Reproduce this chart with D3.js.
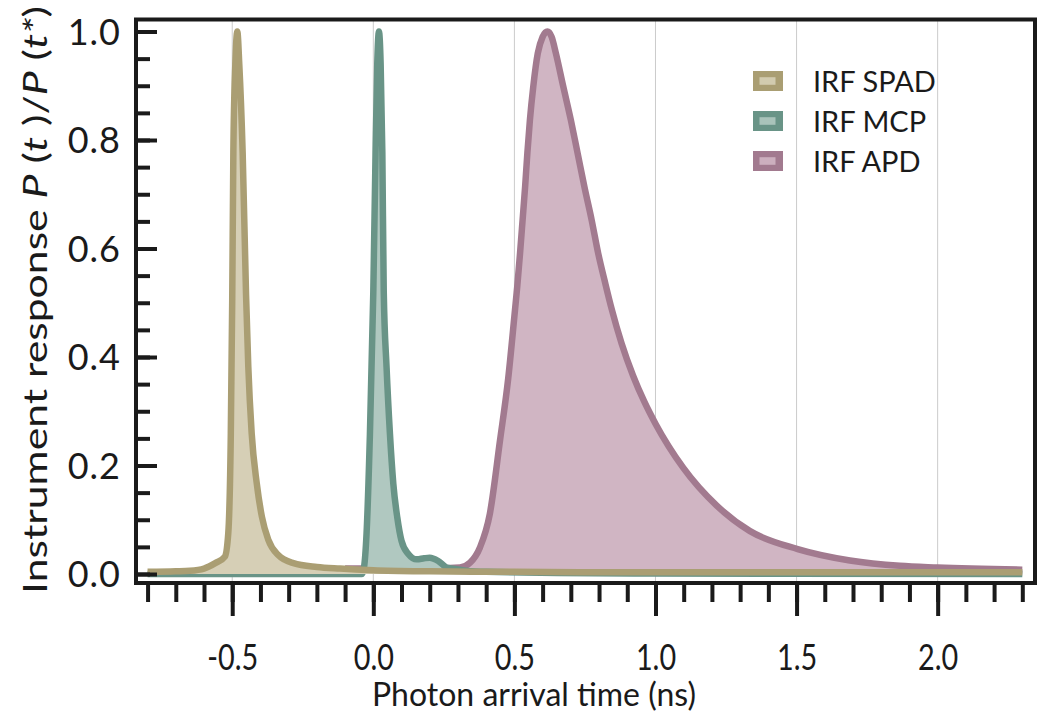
<!DOCTYPE html>
<html>
<head>
<meta charset="utf-8">
<script src="https://cdn.jsdelivr.net/npm/d3@7"></script>
<style>
  html, body { margin: 0; padding: 0; background: #ffffff; }
  svg text { font-family: Lato, "Open Sans", sans-serif; fill: #1a1a1a; }
</style>
</head>
<body>
<svg id="chart" width="1050" height="726"></svg>
<script>
// ---------------- data ----------------
const seriesNames = ["IRF SPAD", "IRF MCP", "IRF APD"];
const lineColors  = ["#aa9e73", "#699487", "#a27a8f"];
const fillColors  = ["#d6cfb6", "#b0c8c0", "#d0b5c3"];

const spadT = [-0.80, -0.70, -0.65, -0.60, -0.56, -0.526, -0.514, -0.505, -0.500, -0.496, -0.489, -0.482,
               -0.475, -0.463, -0.451, -0.443, -0.431, -0.413, -0.395, -0.372, -0.337, -0.283, -0.20, -0.118,
               0.0, 0.2, 0.5, 1.0, 1.5, 2.0, 2.3];
const spadV = [0.004, 0.005, 0.006, 0.010, 0.020, 0.032, 0.075, 0.259, 0.505, 0.777, 0.94, 1.0,
               0.94, 0.777, 0.515, 0.382, 0.259, 0.167, 0.106, 0.063, 0.035, 0.020, 0.013, 0.010,
               0.007, 0.005, 0.004, 0.003, 0.003, 0.003, 0.003];

const mcpT = [-0.80, -0.40, -0.10, -0.040, -0.033, -0.024, -0.012, 0.000, 0.008, 0.014, 0.020,
              0.026, 0.032, 0.037, 0.047, 0.059, 0.071, 0.085, 0.100, 0.124, 0.154, 0.180, 0.200,
              0.230, 0.260, 0.295, 0.330, 0.40, 1.0, 2.3];
const mcpV = [0.0, 0.0, 0.0, 0.0, 0.012, 0.074, 0.258, 0.52, 0.777, 0.94, 1.0,
              0.94, 0.777, 0.52, 0.381, 0.258, 0.166, 0.104, 0.061, 0.037, 0.027, 0.029, 0.030,
              0.024, 0.012, 0.009, 0.006, 0.004, 0.001, 0.0];

const apdT = [-0.10, 0.00, 0.10, 0.20, 0.307, 0.343, 0.378, 0.413, 0.449, 0.478, 0.502, 0.510,
              0.520, 0.529, 0.538, 0.546, 0.555, 0.567, 0.583, 0.600, 0.617, 0.632, 0.647, 0.673,
              0.700, 0.724, 0.748, 0.774, 0.797, 0.822, 0.845, 0.880, 0.921, 0.960, 1.000, 1.098, 1.217,
              1.335, 1.504, 1.689, 1.866, 2.000, 2.300];
const apdV = [0.010, 0.010, 0.010, 0.010, 0.012, 0.021, 0.049, 0.111, 0.246, 0.360, 0.486, 0.529,
              0.591, 0.652, 0.714, 0.776, 0.837, 0.899, 0.960, 0.990, 1.000, 0.990, 0.960, 0.899,
              0.837, 0.776, 0.714, 0.652, 0.591, 0.536, 0.488, 0.425, 0.365, 0.318, 0.277, 0.196, 0.126,
              0.079, 0.046, 0.025, 0.015, 0.012, 0.008];

const xMajorTicks = [-0.5, 0.0, 0.5, 1.0, 1.5, 2.0];
const xTickLabels = ["-0.5", "0.0", "0.5", "1.0", "1.5", "2.0"];
const xMinorTicks = [-0.8, -0.7, -0.6, -0.5, -0.4, -0.3, -0.2, -0.1, 0.0, 0.1, 0.2, 0.3, 0.4, 0.5, 0.6, 0.7,
                     0.8, 0.9, 1.0, 1.1, 1.2, 1.3, 1.4, 1.5, 1.6, 1.7, 1.8, 1.9, 2.0, 2.1, 2.2, 2.3];
const yMajorTicks = [0.0, 0.2, 0.4, 0.6, 0.8, 1.0];
const yTickLabels = ["0.0", "0.2", "0.4", "0.6", "0.8", "1.0"];
const yMinorTicks = [0.0, 0.05, 0.1, 0.15, 0.2, 0.25, 0.3, 0.35, 0.4, 0.45, 0.5, 0.55, 0.6, 0.65, 0.7,
                     0.75, 0.8, 0.85, 0.9, 0.95, 1.0];

// ---------------- layout ----------------
const frame = { left: 136, right: 1035, top: 19.5, bottom: 583 };
const svg = d3.select("#chart");
const ink = "#1a1a1a";

const x = d3.scaleLinear().domain([-0.841, 2.345]).range([frame.left, frame.right]);
const y = d3.scaleLinear().domain([0, 1]).range([574, 31.5]);

// grid lines
svg.append("g").selectAll("line").data(xMajorTicks).join("line")
  .attr("x1", d => x(d)).attr("x2", d => x(d))
  .attr("y1", frame.top).attr("y2", frame.bottom)
  .attr("stroke", "#cbcbcb").attr("stroke-width", 1);

// series
const series = [
  { name: seriesNames[0], t: spadT, v: spadV, line: lineColors[0], fill: fillColors[0] },
  { name: seriesNames[1], t: mcpT,  v: mcpV,  line: lineColors[1], fill: fillColors[1] },
  { name: seriesNames[2], t: apdT,  v: apdV,  line: lineColors[2], fill: fillColors[2] }
];
series.forEach(s => { s.pts = s.t.map((t, i) => ({ t: t, v: s.v[i] })); });

const area = d3.area().x(d => x(d.t)).y0(y(0)).y1(d => y(d.v)).curve(d3.curveMonotoneX);
const line = d3.line().x(d => x(d.t)).y(d => y(d.v)).curve(d3.curveMonotoneX);

const drawOrder = [2, 1, 0];
const gData = svg.append("g");
drawOrder.forEach(i => {
  const s = series[i];
  gData.append("path").attr("d", area(s.pts)).attr("fill", s.fill).attr("stroke", "none");
  gData.append("path").attr("d", line(s.pts)).attr("fill", "none")
    .attr("stroke", s.line).attr("stroke-width", 6.5).attr("stroke-linejoin", "miter");
});

// frame
svg.append("rect")
  .attr("x", frame.left).attr("y", frame.top)
  .attr("width", frame.right - frame.left).attr("height", frame.bottom - frame.top)
  .attr("fill", "none").attr("stroke", ink).attr("stroke-width", 4);

// x axis (ticks outside, downward)
const gxMinor = svg.append("g").attr("transform", `translate(0,${frame.bottom})`)
  .call(d3.axisBottom(x).tickValues(xMinorTicks).tickSize(19).tickFormat(""));
const gxMajor = svg.append("g").attr("transform", `translate(0,${frame.bottom})`)
  .call(d3.axisBottom(x).tickValues(xMajorTicks).tickSize(33)
    .tickFormat((d, i) => xTickLabels[i]));
[gxMinor, gxMajor].forEach(g => {
  g.select(".domain").remove();
  g.selectAll(".tick line").attr("stroke", ink).attr("stroke-width", 4);
});
gxMajor.selectAll(".tick text")
  .attr("y", 87).attr("dy", null)
  .attr("font-size", 36)
  .attr("transform", "scale(0.8,1)")
  .style("font-family", "Lato, sans-serif").attr("fill", ink);

// y axis (ticks inside)
const gyMinor = svg.append("g").attr("transform", `translate(${frame.left},0)`)
  .call(d3.axisLeft(y).tickValues(yMinorTicks).tickSize(-14).tickFormat(""));
const gyMajor = svg.append("g").attr("transform", `translate(${frame.left},0)`)
  .call(d3.axisLeft(y).tickValues(yMajorTicks).tickSize(-21).tickPadding(15)
    .tickFormat((d, i) => yTickLabels[i]));
[gyMinor, gyMajor].forEach(g => {
  g.select(".domain").remove();
  g.selectAll(".tick line").attr("stroke", ink).attr("stroke-width", 4);
});
gyMajor.selectAll(".tick text")
  .attr("font-size", 36).attr("dy", "0.36em")
  .attr("letter-spacing", 1)
  .style("font-family", "Lato, sans-serif").attr("fill", ink);

// axis titles
svg.append("text")
  .attr("x", 534).attr("y", 706)
  .attr("text-anchor", "middle")
  .attr("font-size", 32)
  .attr("textLength", 324).attr("lengthAdjust", "spacingAndGlyphs")
  .text("Photon arrival time (ns)");

const yt = svg.append("text")
  .attr("transform", "translate(47,300) rotate(-90)")
  .attr("text-anchor", "middle")
  .attr("font-size", 32)
  .attr("textLength", 588).attr("lengthAdjust", "spacingAndGlyphs");
[["Instrument response ", false], ["P", true], [" (", false], ["t", true], [" )/", false],
 ["P", true], [" (", false], ["t*", true], [")", false]].forEach(([txt, it]) => {
  yt.append("tspan").text(txt).style("font-style", it ? "italic" : "normal");
});

// legend
const lg = svg.append("g");
series.forEach((s, i) => {
  const cy = 81 + i * 40;
  lg.append("rect").attr("x", 753).attr("y", cy - 10).attr("width", 30).attr("height", 20)
    .attr("fill", s.line);
  lg.append("rect").attr("x", 759.5).attr("y", cy - 3.8).attr("width", 16).attr("height", 7.6)
    .attr("fill", s.fill).attr("opacity", 0.9);
  lg.append("text").attr("x", 813).attr("y", cy + 10.5).attr("font-size", 29).text(s.name);
});
</script>
</body>
</html>
